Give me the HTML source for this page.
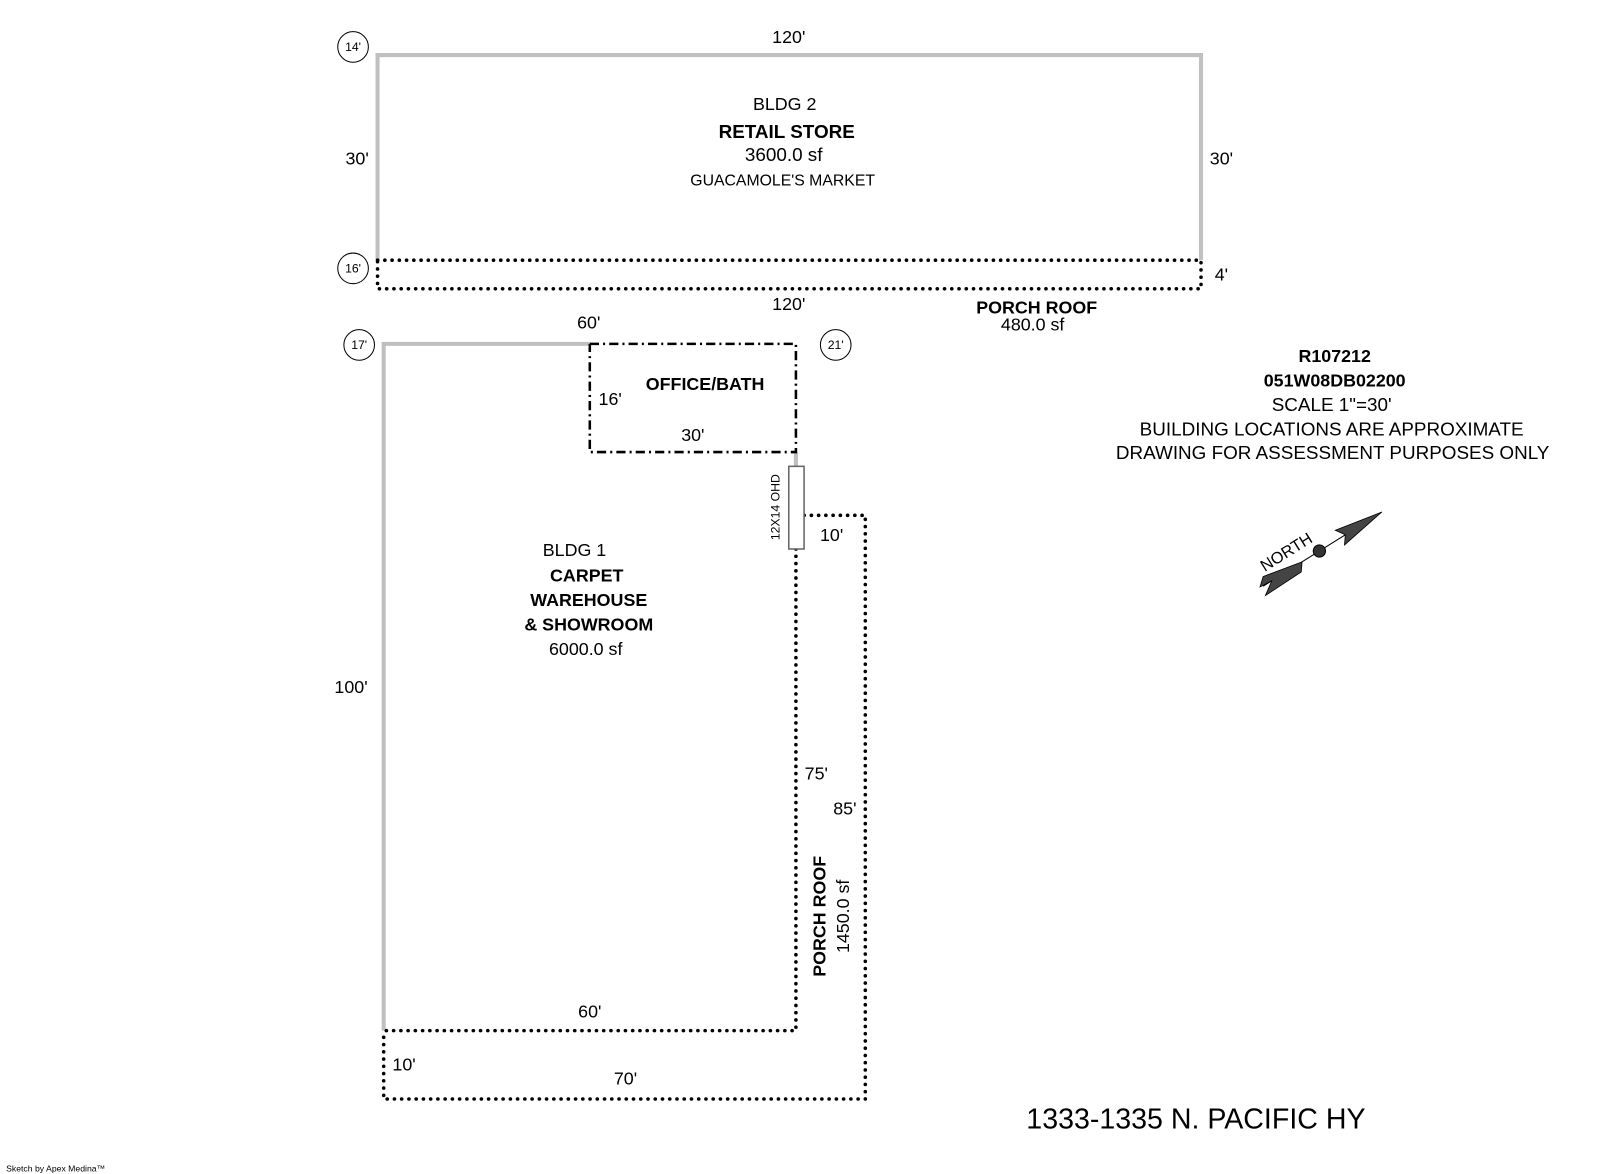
<!DOCTYPE html>
<html><head><style>body{margin:0;background:#fff}svg{display:block}text{font-family:"Liberation Sans",Arial,sans-serif;fill:#000}</style></head><body>
<svg width="1600" height="1174" viewBox="0 0 1568 1150.5" preserveAspectRatio="none" xmlns="http://www.w3.org/2000/svg">
<g fill="none" stroke="#c0c0c0" stroke-width="4">
<polyline points="370,255 370,54 1177,54 1177,255"/>
<polyline points="376,1010 376,337 578,337"/>
<line x1="780" y1="443" x2="780" y2="457"/>
</g>
<g fill="none" stroke="#000" stroke-width="3.5" stroke-dasharray="0.1 7" stroke-linecap="round">
<polyline points="370,255 1177,255 1177,283 370,283 370,255"/>
<polyline points="780,538 780,1010 376,1010"/>
<polyline points="788,505 848,505 848,1077 376,1077 376,1010"/>
</g>
<polyline points="578,337 780,337 780,443 578,443 578,337" fill="none" stroke="#000" stroke-width="2.5" stroke-dasharray="9 4 2 4"/>
<rect x="773" y="457" width="15" height="81" fill="#fff" stroke="#666" stroke-width="1.5"/>
<g fill="#fff" stroke="#000" stroke-width="1">
<circle cx="346" cy="46" r="15"/><circle cx="346" cy="263" r="15"/><circle cx="352" cy="338" r="15"/><circle cx="819" cy="338" r="15"/>
</g>
<g font-size="12" text-anchor="middle">
<text x="346" y="50">14'</text><text x="346" y="267">16'</text><text x="352" y="342">17'</text><text x="819" y="342">21'</text>
</g>
<g font-size="17.5" text-anchor="middle">
<text x="773" y="42">120'</text>
<text x="350" y="161">30'</text><text x="1197" y="161">30'</text>
<text x="1197" y="275">4'</text>
<text x="773" y="304">120'</text>
<text x="577" y="322">60'</text>
<text x="769" y="108">BLDG 2</text>
<text x="771" y="135" font-weight="bold" font-size="18.5">RETAIL STORE</text>
<text x="768" y="158" font-size="18.5">3600.0 sf</text>
<text x="767" y="182" font-size="15.5">GUACAMOLE'S MARKET</text>
<text x="1016" y="307" font-weight="bold">PORCH ROOF</text>
<text x="1012" y="324">480.0 sf</text>
<text x="691" y="382" font-weight="bold">OFFICE/BATH</text>
<text x="598" y="397">16'</text>
<text x="679" y="432">30'</text>
<text x="815" y="530">10'</text>
<text x="563" y="545">BLDG 1</text>
<text x="575" y="570" font-weight="bold">CARPET</text>
<text x="577" y="594" font-weight="bold">WAREHOUSE</text>
<text x="577" y="618" font-weight="bold">&amp; SHOWROOM</text>
<text x="574" y="642">6000.0 sf</text>
<text x="344" y="679">100'</text>
<text x="800" y="764">75'</text>
<text x="828" y="798">85'</text>
<text x="578" y="997">60'</text>
<text x="396" y="1049">10'</text>
<text x="613" y="1063">70'</text>
<text x="1308" y="355" font-weight="bold">R107212</text>
<text x="1308" y="379" font-weight="bold">051W08DB02200</text>
<text x="1305" y="403" font-size="18.5">SCALE 1"=30'</text>
<text x="1305" y="427" font-size="18.5">BUILDING LOCATIONS ARE APPROXIMATE</text>
<text x="1306" y="450" font-size="18.5">DRAWING FOR ASSESSMENT PURPOSES ONLY</text>
</g>
<text transform="translate(809,898) rotate(-90)" font-size="17.5" font-weight="bold" text-anchor="middle">PORCH ROOF</text>
<text transform="translate(832,898) rotate(-90)" font-size="17.5" text-anchor="middle">1450.0 sf</text>
<text transform="translate(764,497) rotate(-90)" font-size="12" text-anchor="middle">12X14 OHD</text>
<text x="1172" y="1106" font-size="28" text-anchor="middle">1333-1335 N. PACIFIC HY</text>
<text x="6" y="1148" font-size="8.5">Sketch by Apex Medina™</text>
<g transform="translate(1293,540) rotate(-32)">
<text x="-28" y="-11" font-size="16" text-anchor="middle">NORTH</text>
<line x1="-65" y1="0" x2="72" y2="0" stroke="#000" stroke-width="1"/>
<polygon points="72,0 24,-9 30,0 24,8" fill="#444" stroke="#000" stroke-width="0.8"/>
<polygon points="-20,0 -60,-8 -68,-1 -55,0 -68,9 -26,8" fill="#444" stroke="#000" stroke-width="0.8"/>
<circle cx="0" cy="0" r="6" fill="#333" stroke="#000"/>
</g>
</svg>
</body></html>
